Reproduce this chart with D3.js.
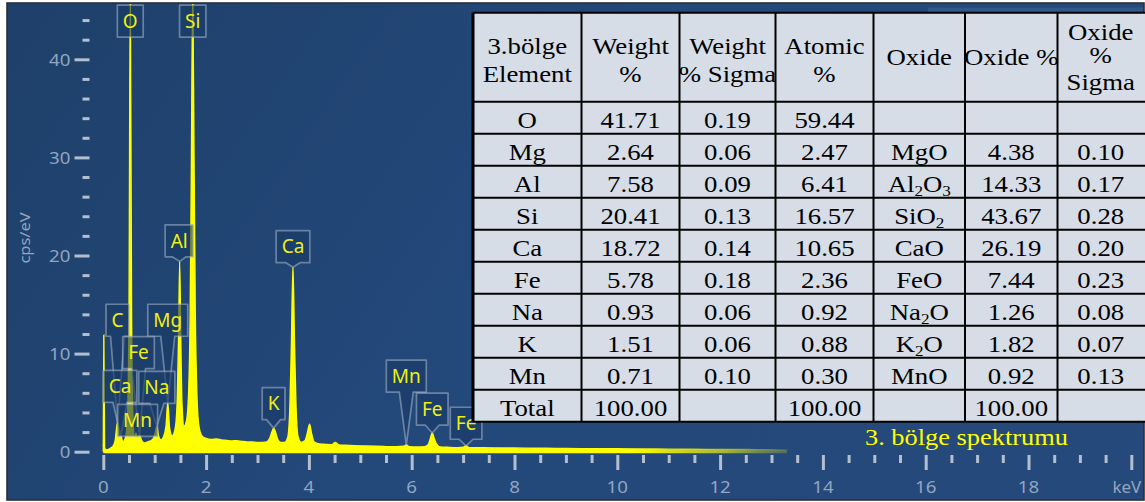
<!DOCTYPE html>
<html>
<head>
<meta charset="utf-8">
<script src="https://cdn.jsdelivr.net/npm/d3@7"></script>
<style>
  html, body { margin: 0; padding: 0; background: #ffffff; }
  svg { display: block; }
</style>
</head>
<body>
<svg id="chart" width="1145" height="502"></svg>
<script>
// ---- EDS spectrum samples: energy (keV) and count rate (cps/eV) ----
const energy = [
  0.000, 0.010, 0.025, 0.060, 0.120, 0.180, 0.230, 0.277, 0.310, 0.341,
  0.380, 0.430, 0.470, 0.500, 0.525, 0.550, 0.580, 0.610, 0.637, 0.670,
  0.705, 0.750, 0.800, 0.860, 0.920, 0.980, 1.010, 1.041, 1.075, 1.120,
  1.170, 1.220, 1.254, 1.290, 1.340, 1.400, 1.440, 1.466, 1.486, 1.506,
  1.530, 1.570, 1.620, 1.660, 1.690, 1.715, 1.740, 1.765, 1.790, 1.820,
  1.860, 1.920, 2.000, 2.100, 2.200, 2.300, 2.400, 2.500, 2.600, 2.700,
  2.800, 2.900, 3.000, 3.100, 3.180, 3.240, 3.280, 3.313, 3.350, 3.390,
  3.450, 3.530, 3.590, 3.630, 3.660, 3.690, 3.720, 3.750, 3.790, 3.850,
  3.920, 3.970, 4.013, 4.050, 4.100, 4.200, 4.330, 4.450, 4.510, 4.580,
  4.700, 4.900, 5.100, 5.300, 5.500, 5.700, 5.850, 5.895, 5.950, 6.100,
  6.250, 6.320, 6.360, 6.400, 6.440, 6.480, 6.560, 6.700, 6.900, 7.000,
  7.058, 7.120, 7.400, 7.800, 8.200, 8.600, 9.000, 9.500, 10.000, 10.500,
  11.000, 11.500, 12.000, 12.500, 13.000, 13.300
];
const counts = [
  0.00, 11.9, 0.40, 0.20, 0.30, 0.50, 1.10, 3.00, 1.30, 1.60,
  1.00, 1.40, 3.50, 14.0, 47.0, 14.0, 3.00, 1.50, 1.90, 1.30,
  1.70, 1.10, 0.90, 1.00, 1.10, 1.40, 1.90, 2.60, 1.60, 1.20,
  1.50, 2.60, 5.00, 2.40, 1.60, 2.40, 5.50, 12.0, 19.4, 12.0,
  5.00, 2.60, 3.20, 6.00, 14.0, 30.0, 47.0, 30.0, 14.0, 6.00,
  2.60, 1.60, 1.35, 1.25, 1.30, 1.20, 1.15, 1.10, 1.12, 1.05,
  1.00, 1.00, 0.95, 0.95, 1.00, 1.40, 2.00, 2.40, 2.00, 1.30,
  0.95, 0.95, 1.50, 4.50, 11.0, 18.8, 11.0, 4.50, 1.50, 0.95,
  1.10, 1.90, 2.80, 1.90, 1.00, 0.80, 0.75, 0.72, 0.95, 0.70,
  0.65, 0.60, 0.58, 0.55, 0.52, 0.50, 0.55, 0.70, 0.50, 0.48,
  0.50, 0.70, 1.30, 1.90, 1.30, 0.80, 0.48, 0.45, 0.42, 0.45,
  0.60, 0.42, 0.40, 0.38, 0.36, 0.35, 0.33, 0.31, 0.30, 0.28,
  0.26, 0.25, 0.23, 0.22, 0.20, 0.15
];

// ---- axes ----
const xMajorTicks = [0, 2, 4, 6, 8, 10, 12, 14, 16, 18, 20];
const xTickLabels = ["0", "2", "4", "6", "8", "10", "12", "14", "16", "18", "keV"];
const xMinorTicks = [0.5, 1, 1.5, 2.5, 3, 3.5, 4.5, 5, 5.5, 6.5, 7, 7.5, 8.5, 9, 9.5,
                     10.5, 11, 11.5, 12.5, 13, 13.5, 14.5, 15, 15.5, 16.5, 17, 17.5, 18.5, 19, 19.5];
const yMajorTicks = [0, 10, 20, 30, 40];
const yMinorTicks = [2, 4, 6, 8, 12, 14, 16, 18, 22, 24, 26, 28, 32, 34, 36, 38, 42, 44];

// ---- peak identifications ----
const peakNames  = ["O", "Si", "Al", "Ca", "C", "Mg", "Fe", "Ca", "Na", "Mn", "K", "Mn", "Fe", "Fe"];
const peakEnergy = [0.525, 1.740, 1.486, 3.690, 0.277, 1.254, 0.705, 0.341, 1.041, 0.637, 3.313, 5.895, 6.400, 7.058];

// ---- quantification table ----
const tableHeader = [["3.bölge", "Element"], ["Weight", "%"], ["Weight", "% Sigma"], ["Atomic", "%"],
                     ["Oxide"], ["Oxide %"], ["Oxide", "%", "Sigma"]];
const elements    = ["O", "Mg", "Al", "Si", "Ca", "Fe", "Na", "K", "Mn", "Total"];
const weightPct   = ["41.71", "2.64", "7.58", "20.41", "18.72", "5.78", "0.93", "1.51", "0.71", "100.00"];
const weightSigma = ["0.19", "0.06", "0.09", "0.13", "0.14", "0.18", "0.06", "0.06", "0.10", ""];
const atomicPct   = ["59.44", "2.47", "6.41", "16.57", "10.65", "2.36", "0.92", "0.88", "0.30", "100.00"];
const oxides      = ["", "MgO", "Al2O3", "SiO2", "CaO", "FeO", "Na2O", "K2O", "MnO", ""];
const oxidePct    = ["", "4.38", "14.33", "43.67", "26.19", "7.44", "1.26", "1.82", "0.92", "100.00"];
const oxideSigma  = ["", "0.10", "0.17", "0.28", "0.20", "0.23", "0.08", "0.07", "0.13", ""];
const caption = "3. bölge spektrumu";

// ---- layout ----
const W = 1145, H = 502;
const frame = { x0: 7, y0: 3, x1: 1144, y1: 500 };
// callout box centre: height on the cps scale and small energy shift from the peak
const calloutLevel = [43.9, 43.9, 21.5, 20.9, 13.4, 13.4, 10.1, 6.65, 6.55, 3.2, 4.9, 7.7, 4.35, 2.9];
const calloutShift = [0, 0, -0.01, 0, 0, 0, -0.02, -0.016, 0, 0.03, 0, 0, 0, 0];
const colWidths = [108.5, 98, 96, 98, 91.5, 92.5, 92.5];
const headerHeight = 89;
const rowHeight = 32;
const tableLeft = 473, tableTop = 12.7;

const svg = d3.select("#chart").attr("width", W).attr("height", H);
const defs = svg.append("defs");

const x = d3.scaleLinear().domain([0, 20]).range([103.3, 1131.3]);
const y = d3.scaleLinear().domain([0, 45]).range([451.7, 451.7 - 45 * 9.81]);

// background panel
const bg = defs.append("linearGradient").attr("id", "bgGrad")
  .attr("x1", "0").attr("y1", "0").attr("x2", "1").attr("y2", "0.3");
bg.append("stop").attr("offset", "0").attr("stop-color", "#1e406a");
bg.append("stop").attr("offset", "0.55").attr("stop-color", "#23487a");
bg.append("stop").attr("offset", "1").attr("stop-color", "#25497a");

defs.append("clipPath").attr("id", "plotClip").append("rect")
  .attr("x", frame.x0 + 1).attr("y", frame.y0 + 1)
  .attr("width", frame.x1 - frame.x0 - 2).attr("height", frame.y1 - frame.y0 - 2);

// spectrum colour fades out at the high-energy tail
const fade = defs.append("linearGradient").attr("id", "specGrad")
  .attr("gradientUnits", "userSpaceOnUse")
  .attr("x1", x(10.3)).attr("y1", 0).attr("x2", x(13.3)).attr("y2", 0);
fade.append("stop").attr("offset", "0").attr("stop-color", "#ffff00").attr("stop-opacity", 1);
fade.append("stop").attr("offset", "0.6").attr("stop-color", "#c8d020").attr("stop-opacity", 0.8);
fade.append("stop").attr("offset", "1").attr("stop-color", "#7f9a50").attr("stop-opacity", 0.45);

svg.append("rect")
  .attr("x", frame.x0).attr("y", frame.y0)
  .attr("width", frame.x1 - frame.x0).attr("height", frame.y1 - frame.y0)
  .attr("fill", "url(#bgGrad)").attr("stroke", "#2b2f36").attr("stroke-width", 1.6);

// faint header strip at the top right of the panel
svg.append("rect").attr("x", 928).attr("y", 7.5).attr("width", frame.x1 - 929).attr("height", 4.5)
  .attr("fill", "#3a6696").attr("opacity", 0.55);

const tickColor = "#b3bfcf";
const labelColor = "#92a6c0";
const sansFont = "'Noto Sans', 'Open Sans', sans-serif";
const serifFont = "'Liberation Serif', 'Times New Roman', serif";

function styleTicks(g, width) {
  g.select(".domain").remove();
  g.selectAll(".tick line").attr("stroke", tickColor).attr("stroke-width", width);
  g.selectAll(".tick text").remove();
}

// x axis ticks (minor every 0.5 keV, major every 2 keV)
svg.append("g").attr("transform", "translate(0,455)")
  .call(d3.axisBottom(x).tickValues(xMinorTicks).tickSize(8).tickFormat(""))
  .call(styleTicks, 3);
svg.append("g").attr("transform", "translate(0,455)")
  .call(d3.axisBottom(x).tickValues(xMajorTicks).tickSize(15).tickFormat(""))
  .call(styleTicks, 3);

svg.append("g").selectAll("text").data(xMajorTicks).join("text")
  .attr("transform", (d, i) => i === xMajorTicks.length - 1
    ? `translate(${x(d) + 10},493)` : `translate(${x(d)},493) scale(1.1,1)`)
  .attr("text-anchor", (d, i) => i === xMajorTicks.length - 1 ? "end" : "middle")
  .attr("font-family", sansFont).attr("font-size", 17)
  .attr("fill", labelColor)
  .text((d, i) => xTickLabels[i]);

// y axis ticks
svg.append("g").attr("transform", "translate(89.5,0)")
  .call(d3.axisLeft(y).tickValues(yMinorTicks).tickSize(7).tickFormat(""))
  .call(styleTicks, 3);
svg.append("g").attr("transform", "translate(89.5,0)")
  .call(d3.axisLeft(y).tickValues(yMajorTicks).tickSize(15).tickFormat(""))
  .call(styleTicks, 3);

svg.append("g").selectAll("text").data(yMajorTicks).join("text")
  .attr("transform", d => `translate(70.5,${y(d) + 6.2}) scale(1.1,1)`)
  .attr("text-anchor", "end")
  .attr("font-family", sansFont).attr("font-size", 17)
  .attr("fill", labelColor)
  .text(d => d);

svg.append("text")
  .attr("transform", "translate(30,238) rotate(-90) scale(1.1,1)")
  .attr("text-anchor", "middle")
  .attr("font-family", sansFont).attr("font-size", 15)
  .attr("fill", labelColor)
  .text("cps/eV");

// spectrum
const spectrum = energy.map((e, i) => ({ e, c: counts[i] }));
const area = d3.area()
  .x(d => x(d.e))
  .y0(y(0) + 1.5)
  .y1(d => y(d.c))
  .curve(d3.curveMonotoneX);
const line = d3.line()
  .x(d => x(d.e))
  .y(d => y(d.c))
  .curve(d3.curveMonotoneX);

const plot = svg.append("g").attr("clip-path", "url(#plotClip)");
plot.append("path").datum(spectrum)
  .attr("d", area).attr("fill", "url(#specGrad)");
plot.append("path").datum(spectrum)
  .attr("d", line).attr("fill", "none")
  .attr("stroke", "url(#specGrad)").attr("stroke-width", 1.4);

// peak callouts
const countAt = e => {
  const i = d3.bisector(d => d.e).left(spectrum, e);
  const a = spectrum[Math.max(0, i - 1)], b = spectrum[Math.min(spectrum.length - 1, i)];
  if (b.e === a.e) return b.c;
  return a.c + (b.c - a.c) * (e - a.e) / (b.e - a.e);
};

const callouts = svg.append("g").attr("clip-path", "url(#plotClip)");
peakNames.forEach((name, i) => {
  const e = peakEnergy[i];
  const tx = x(e), ty = y(Math.min(countAt(e), 45.5));
  const cx = x(e + calloutShift[i]), cy = y(calloutLevel[i]);
  const g = callouts.append("g");
  const t = g.append("text")
    .attr("x", cx).attr("y", cy + 6.8)
    .attr("text-anchor", "middle")
    .attr("font-family", sansFont).attr("font-size", 19)
    .attr("fill", "#f0f010")
    .text(name);
  const tw = t.node().getComputedTextLength();
  const bw = tw + 11, bh = 32;
  const x0 = cx - bw / 2, x1 = cx + bw / 2, y0 = cy - bh / 2, y1 = cy + bh / 2;
  let d;
  if (ty > y1 + 2) {
    const hw = 7;
    d = `M${x0},${y0}H${x1}V${y1}H${cx + hw}L${tx},${ty}L${cx - hw},${y1}H${x0}Z`;
  } else {
    d = `M${x0},${y0}H${x1}V${y1}H${x0}Z`;
  }
  g.insert("path", "text").attr("d", d)
    .attr("fill", "#183a66").attr("fill-opacity", 0.62)
    .attr("stroke", "#aab8cc").attr("stroke-opacity", 0.55)
    .attr("stroke-width", 1.7).attr("stroke-linejoin", "round");
});

// quantification table
const colEdges = [tableLeft];
colWidths.forEach(w => colEdges.push(colEdges[colEdges.length - 1] + w));
const rowEdges = [tableTop, tableTop + headerHeight];
elements.forEach(() => rowEdges.push(rowEdges[rowEdges.length - 1] + rowHeight));
const tableRight = colEdges[colEdges.length - 1];
const tableBottom = rowEdges[rowEdges.length - 1];

const table = svg.append("g");
table.append("rect")
  .attr("x", tableLeft).attr("y", tableTop)
  .attr("width", tableRight - tableLeft).attr("height", tableBottom - tableTop)
  .attr("fill", "#d6dde6");
table.selectAll("line.v").data(colEdges).join("line").attr("class", "v")
  .attr("x1", d => d).attr("x2", d => d)
  .attr("y1", tableTop).attr("y2", tableBottom)
  .attr("stroke", "#000").attr("stroke-width", (d, i) => i === 0 ? 3 : 2);
table.selectAll("line.h").data(rowEdges).join("line").attr("class", "h")
  .attr("x1", tableLeft).attr("x2", tableRight)
  .attr("y1", d => d).attr("y2", d => d)
  .attr("stroke", "#000").attr("stroke-width", 2);

const cellScale = 1.14;
const colCenter = i => (colEdges[i] + colEdges[i + 1]) / 2 - (i === 6 ? 3 : 0);

function cellText(cx, by, str, chem) {
  const t = table.append("text")
    .attr("transform", `translate(${cx},${by}) scale(${cellScale},1)`)
    .attr("text-anchor", "middle")
    .attr("font-family", serifFont).attr("font-size", 23.5)
    .attr("fill", "#000");
  if (!chem) { t.text(str); return; }
  let sub = false;
  str.split(/(\d)/).filter(s => s).forEach(part => {
    const isDigit = /\d/.test(part);
    const ts = t.append("tspan").text(part);
    if (isDigit && !sub) { ts.attr("dy", 3.5).attr("font-size", 15); sub = true; }
    else if (isDigit) { ts.attr("font-size", 15); }
    else if (sub) { ts.attr("dy", -3.5); sub = false; }
  });
}

const headerBaselines = { 1: [52.3], 2: [40.8, 68.8], 3: [27.3, 50.3, 77.3] };
tableHeader.forEach((lines, c) => {
  headerBaselines[lines.length].forEach((b, k) => cellText(colCenter(c), tableTop + b, lines[k], false));
});

const columns = [elements, weightPct, weightSigma, atomicPct, oxides, oxidePct, oxideSigma];
columns.forEach((col, c) => {
  col.forEach((v, r) => {
    if (v) cellText(colCenter(c), rowEdges[r + 1] + 26.6, v, c === 4);
  });
});

// caption
svg.append("text")
  .attr("transform", "translate(966.5,445) scale(1.1,1)")
  .attr("text-anchor", "middle")
  .attr("font-family", serifFont).attr("font-size", 24)
  .attr("fill", "#ffff00")
  .text(caption);
</script>
</body>
</html>
